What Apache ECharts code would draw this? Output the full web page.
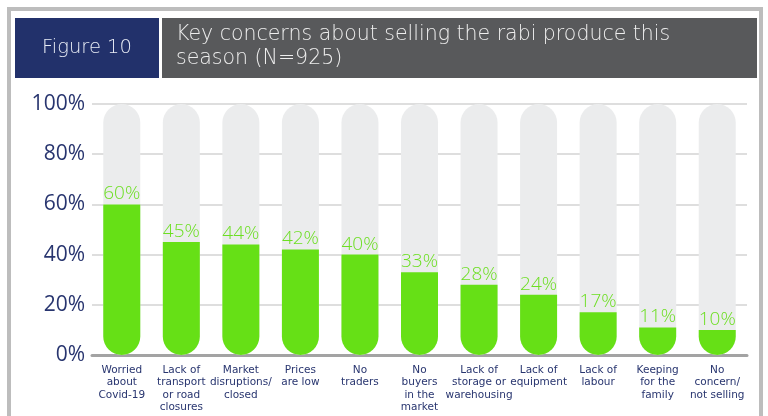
<!DOCTYPE html>
<html>
<head>
<meta charset="utf-8">
<script src="https://cdn.jsdelivr.net/npm/echarts@6/dist/echarts.min.js"></script>
<style>
  html, body { margin: 0; padding: 0; background: #ffffff; }
  #chart { width: 768px; height: 416px; }
</style>
</head>
<body>
<div id="chart"></div>
<script>
// Concerns about selling the rabi produce (share of respondents, %)
var categories = [
  'Worried\nabout\nCovid-19',
  'Lack of\ntransport\nor road\nclosures',
  'Market\ndisruptions/\nclosed',
  'Prices\nare low',
  'No\ntraders',
  'No\nbuyers\nin the\nmarket',
  'Lack of\nstorage or\nwarehousing',
  'Lack of\nequipment',
  'Lack of\nlabour',
  'Keeping\nfor the\nfamily',
  'No\nconcern/\nnot selling'
];
var shares = [60, 45, 44, 42, 40, 33, 28, 24, 17, 11, 10];
var yTicks = [0, 20, 40, 60, 80, 100];

var figureLabel = 'Figure 10';
var titleText = 'Key concerns about selling the rabi produce this\nseason (N=925)';

var NAVY = '#22316b';
var INK = '#28356f';
var GREEN = '#66e016';
var LABEL_GREEN = '#6cdf22';
var WIDE = '"DejaVu Sans", "Open Sans", sans-serif';
var NUM = '"Open Sans", "DejaVu Sans", sans-serif';

var chart = echarts.init(document.getElementById('chart'), null, { renderer: 'canvas' });

chart.setOption({
  backgroundColor: '#ffffff',
  animation: false,
  graphic: [
    // outer frame
    { type: 'rect', shape: { x: 9, y: 9, width: 752, height: 420 },
      style: { fill: 'none', stroke: '#bdbdbd', lineWidth: 4 }, z: 0 },
    // figure number box
    { type: 'rect', shape: { x: 15, y: 18, width: 144, height: 60 },
      style: { fill: NAVY }, z: 1 },
    { type: 'text', x: 87, y: 48, z: 2,
      style: { text: figureLabel, align: 'center', verticalAlign: 'middle',
               fill: '#e8ecf5', font: '200 19.5px ' + WIDE } },
    // title box
    { type: 'rect', shape: { x: 162, y: 18, width: 595, height: 60 },
      style: { fill: '#58595b' }, z: 1 },
    { type: 'text', x: 176, y: 23, z: 2,
      style: { text: titleText, align: 'left', verticalAlign: 'top',
               fill: '#eeeeee', font: '200 20.5px ' + WIDE, lineHeight: 24 } }
  ],
  grid: { left: 92, right: 21, top: 104, bottom: 61, containLabel: false },
  xAxis: {
    type: 'category',
    data: categories,
    axisTick: { show: false },
    axisLine: { lineStyle: { color: '#a3a3a3', width: 3 } },
    axisLabel: {
      interval: 0, margin: 9, color: INK,
      fontFamily: WIDE, fontSize: 10.5, lineHeight: 12.5,
      verticalAlign: 'top'
    }
  },
  yAxis: {
    type: 'value',
    min: yTicks[0], max: yTicks[yTicks.length - 1], interval: 20,
    axisLine: { show: false },
    axisTick: { show: false },
    splitLine: { lineStyle: { color: '#dedede', width: 2 } },
    axisLabel: {
      formatter: '{value}%', margin: 7, color: INK,
      fontFamily: NUM, fontSize: 21, fontWeight: 400
    }
  },
  series: [{
    type: 'bar',
    data: shares,
    barWidth: 37,
    showBackground: true,
    backgroundStyle: { color: '#ebeced', borderRadius: 18.5 },
    itemStyle: { color: GREEN, borderRadius: [0, 0, 18.5, 18.5] },
    label: {
      show: true, position: 'top', distance: 1,
      formatter: '{c}%', color: LABEL_GREEN,
      fontFamily: NUM, fontSize: 19, fontWeight: 300
    }
  }]
});
</script>
</body>
</html>
